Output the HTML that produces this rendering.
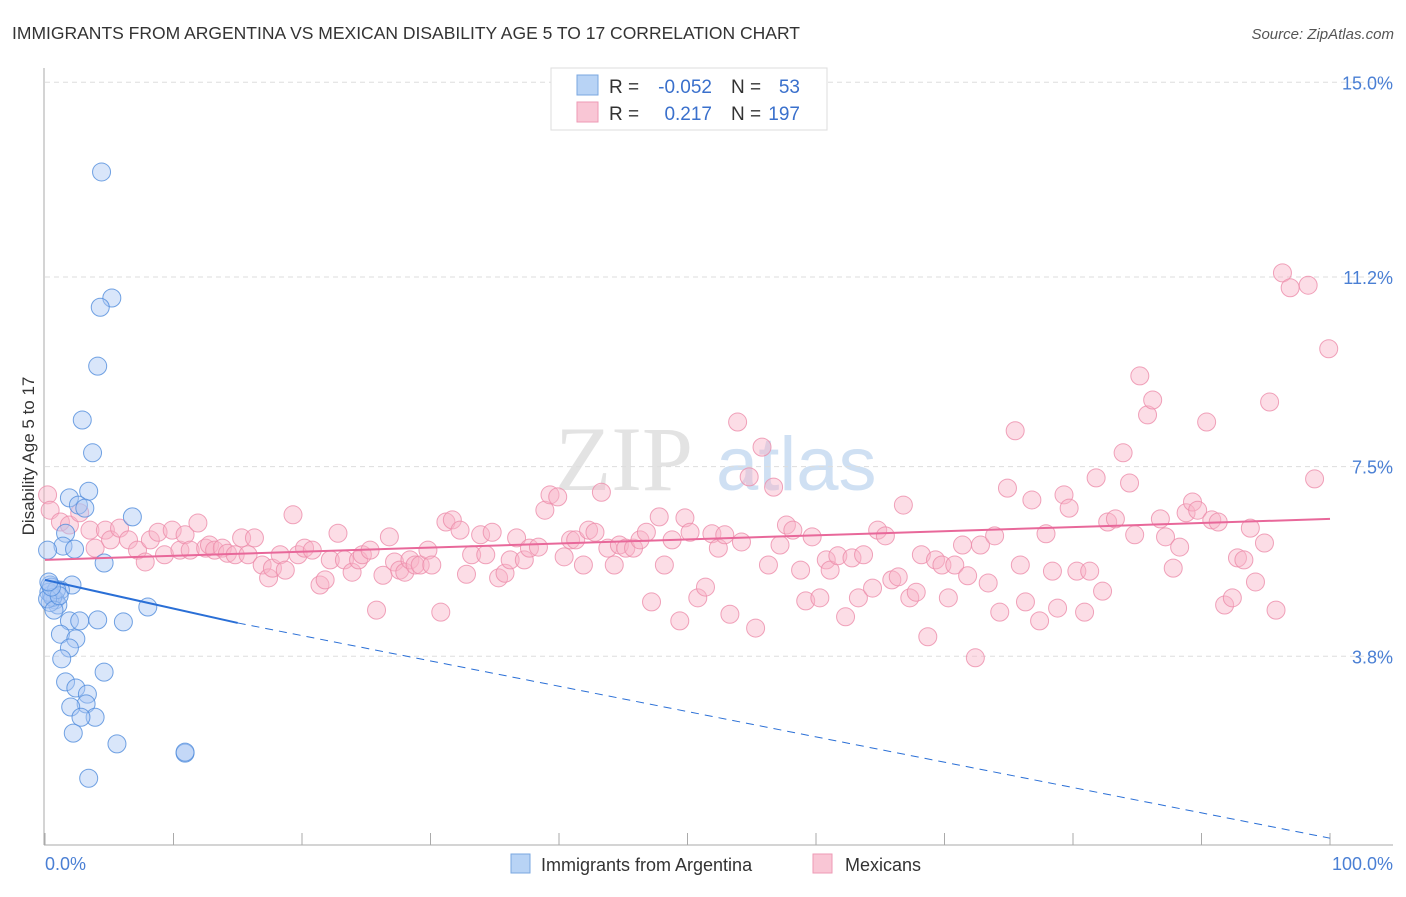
<!DOCTYPE html>
<html><head><meta charset="utf-8"><style>
body{margin:0;background:#fff;font-family:"Liberation Sans",sans-serif;}
</style></head><body>
<svg id="chart" width="1406" height="892" viewBox="0 0 1406 892" xmlns="http://www.w3.org/2000/svg" font-family="Liberation Sans, sans-serif">
<text x="12" y="39" font-size="17.5" fill="#333">IMMIGRANTS FROM ARGENTINA VS MEXICAN DISABILITY AGE 5 TO 17 CORRELATION CHART</text>
<text x="1394" y="39" font-size="15" fill="#555" text-anchor="end" font-style="italic">Source: ZipAtlas.com</text>
<g>
<text x="555" y="490" font-size="92" fill="#e3e3e3" font-family="Liberation Serif, serif">ZIP</text>
<text x="716" y="490" font-size="76" fill="#cfe0f3">atlas</text>
</g>
<g id="grid"></g><g id="axes"></g><g id="pts"></g><g id="lines"></g>
<text transform="translate(34,456) rotate(-90)" font-size="17" fill="#333" text-anchor="middle">Disability Age 5 to 17</text>
<text x="45" y="870" font-size="18" fill="#4a7fd4">0.0%</text>
<text x="1393" y="870" font-size="18" fill="#4a7fd4" text-anchor="end">100.0%</text>
<g>
<rect x="551" y="68" width="276" height="62" fill="#fff" stroke="#ddd"/>
<rect x="577" y="75" width="21" height="20" fill="#b8d3f5" stroke="#7aa7e0"/>
<rect x="577" y="102" width="21" height="20" fill="#f9c6d5" stroke="#ee9ab5"/>
<text x="609" y="93" font-size="19" fill="#333">R =</text>
<text x="712" y="93" font-size="19" fill="#3a70cc" text-anchor="end">-0.052</text>
<text x="731" y="93" font-size="19" fill="#333">N =</text>
<text x="800" y="93" font-size="19" fill="#3a70cc" text-anchor="end">53</text>
<text x="609" y="120" font-size="19" fill="#333">R =</text>
<text x="712" y="120" font-size="19" fill="#3a70cc" text-anchor="end">0.217</text>
<text x="731" y="120" font-size="19" fill="#333">N =</text>
<text x="800" y="120" font-size="19" fill="#3a70cc" text-anchor="end">197</text>
</g>
<g>
<rect x="511" y="854" width="19" height="19" fill="#b8d3f5" stroke="#7aa7e0"/>
<text x="541" y="871" font-size="18" fill="#333">Immigrants from Argentina</text>
<rect x="813" y="854" width="19" height="19" fill="#f9c6d5" stroke="#ee9ab5"/>
<text x="845" y="871" font-size="18" fill="#333">Mexicans</text>
</g>
</svg>
<script>
const yTicks=[3.8,7.5,11.2,15.0];
const yTickLabels=["3.8%","7.5%","11.2%","15.0%"];
const argX=[4.4,5.2,4.3,4.1,2.9,3.7,3.4,1.9,2.6,3.1,6.8,1.6,1.4,2.3,4.6,0.2,2.1,1.2,0.4,0.5,0.8,1.0,0.4,8.0,1.9,2.7,4.1,6.1,1.2,2.4,1.9,1.3,4.6,1.6,2.4,3.3,3.2,2.0,3.9,2.8,2.2,5.6,10.9,3.4,0.3,0.6,0.9,0.2,0.7,1.1,0.5,10.9,0.3];
const argY=[13.25,10.79,10.61,9.46,8.41,7.77,7.02,6.89,6.75,6.69,6.52,6.20,5.95,5.89,5.62,5.87,5.19,5.09,5.19,5.00,4.90,4.80,4.85,4.76,4.49,4.49,4.51,4.47,4.23,4.14,3.96,3.75,3.49,3.30,3.18,3.06,2.87,2.81,2.61,2.61,2.30,2.09,1.91,1.42,5.05,4.95,5.10,4.92,4.70,4.98,5.15,1.93,5.25];
const mexX=[0.2,0.4,1.2,1.9,2.7,3.5,3.9,4.7,5.1,5.8,6.5,7.2,7.8,8.2,8.8,9.3,9.9,10.5,10.9,11.3,11.9,12.5,12.8,13.2,13.8,14.2,14.8,15.3,15.8,16.3,16.9,17.4,17.7,18.3,18.7,19.3,19.7,20.2,20.8,21.4,21.8,22.2,22.8,23.3,23.9,24.4,24.7,25.3,25.8,26.3,26.8,27.2,27.6,28.0,28.4,28.8,29.2,29.8,30.1,30.8,31.2,31.7,32.3,32.8,33.2,33.9,34.3,34.8,35.3,35.8,36.2,36.7,37.3,37.7,38.4,38.9,39.3,39.9,40.4,40.9,41.3,41.9,42.3,42.8,43.3,43.8,44.3,44.7,45.2,45.8,46.3,46.8,47.2,47.8,48.2,48.8,49.4,49.8,50.2,50.8,51.4,51.9,52.4,52.9,53.3,53.9,54.2,54.8,55.3,55.8,56.3,56.7,57.2,57.7,58.2,58.8,59.2,59.7,60.3,60.8,61.1,61.7,62.3,62.8,63.3,63.7,64.4,64.8,65.4,65.9,66.4,66.8,67.3,67.8,68.2,68.7,69.3,69.8,70.3,70.8,71.4,71.8,72.4,72.8,73.4,73.9,74.3,74.9,75.5,75.9,76.3,76.8,77.4,77.9,78.4,78.8,79.3,79.7,80.3,80.9,81.3,81.8,82.3,82.7,83.3,83.9,84.4,84.8,85.2,85.8,86.2,86.8,87.2,87.8,88.3,88.8,89.3,89.7,90.4,90.8,91.3,91.8,92.4,92.8,93.3,93.8,94.2,94.9,95.3,95.8,96.3,96.9,98.3,98.8,99.9];
const mexY=[6.95,6.65,6.42,6.36,6.60,6.26,5.91,6.26,6.07,6.30,6.07,5.87,5.64,6.07,6.22,5.78,6.26,5.87,6.17,5.87,6.40,5.91,5.97,5.87,5.91,5.81,5.78,6.11,5.78,6.11,5.58,5.33,5.52,5.78,5.48,6.56,5.78,5.91,5.87,5.19,5.29,5.68,6.20,5.68,5.44,5.68,5.78,5.87,4.70,5.38,6.13,5.64,5.48,5.44,5.68,5.58,5.58,5.87,5.58,4.66,6.42,6.46,6.26,5.40,5.78,6.17,5.78,6.22,5.33,5.42,5.68,6.11,5.68,5.91,5.93,6.65,6.95,6.91,5.74,6.07,6.07,5.58,6.26,6.22,7.00,5.91,5.58,5.97,5.91,5.91,6.07,6.22,4.86,6.52,5.58,6.07,4.49,6.50,6.22,4.94,5.15,6.19,5.91,6.17,4.62,8.37,6.03,7.30,4.35,7.88,5.58,7.10,5.97,6.36,6.26,5.48,4.88,6.13,4.94,5.68,5.48,5.76,4.57,5.72,4.94,5.78,5.13,6.26,6.15,5.29,5.35,6.75,4.94,5.05,5.78,4.18,5.68,5.58,4.94,5.58,5.97,5.37,3.77,5.97,5.23,6.15,4.66,7.08,8.20,5.58,4.86,6.85,4.49,6.19,5.46,4.74,6.95,6.69,5.46,4.66,5.46,7.28,5.07,6.42,6.48,7.77,7.18,6.17,9.27,8.51,8.80,6.48,6.13,5.52,5.93,6.60,6.81,6.65,8.37,6.46,6.42,4.80,4.94,5.72,5.68,6.30,5.25,6.01,8.76,4.70,11.28,10.99,11.04,7.26,9.80];
const argTrend=[5.29,4.45];   // at x=0 and x=15 (solid part)
const argTrendEnd=0.25;       // at x=100 (dashed)
const mexTrend=[5.68,6.48];   // at x=0 and x=100

const NS="http://www.w3.org/2000/svg";
const X=v=>45+v*12.85;
const Y=v=>851-v*51.25;
function mk(tag,attrs,parent){const e=document.createElementNS(NS,tag);for(const k in attrs)e.setAttribute(k,attrs[k]);document.getElementById(parent).appendChild(e);return e;}
yTicks.forEach((t,i)=>{
  const g=mk('line',{x1:45,x2:1393,y1:Y(t),y2:Y(t),stroke:'#ddd','stroke-dasharray':'5,4'},'grid');
  
  
  const l=mk('text',{x:1393,y:Y(t)+7,'font-size':18,fill:'#4a7fd4','text-anchor':'end'},'grid');
  l.textContent=yTickLabels[i];
  
  
});
const ya=mk('line',{x1:44,x2:44,y1:68,y2:845,stroke:'#aaa'},'axes');


const xa=mk('line',{x1:44,x2:1393,y1:845,y2:845,stroke:'#aaa'},'axes');


for(let i=0;i<=10;i++){
  const t=mk('line',{x1:X(i*10),x2:X(i*10),y1:833,y2:845,stroke:'#aaa'},'axes');
  
  
}
mexX.forEach((x,i)=>{
  const c=mk('circle',{cx:X(x),cy:Y(mexY[i]),r:9,fill:'rgba(248,180,200,0.45)',stroke:'rgba(236,140,170,0.8)','stroke-width':1},'pts');
  
  
});
argX.forEach((x,i)=>{
  const c=mk('circle',{cx:X(x),cy:Y(argY[i]),r:9,fill:'rgba(170,200,245,0.45)',stroke:'rgba(80,140,220,0.8)','stroke-width':1},'pts');
  
  
});
const a1=mk('line',{x1:X(0),y1:Y(argTrend[0]),x2:X(15),y2:Y(argTrend[1]),stroke:'#2a6fd6','stroke-width':2},'lines');


const a2=mk('line',{x1:X(15),y1:Y(argTrend[1]),x2:X(100),y2:Y(argTrendEnd),stroke:'#2a6fd6','stroke-width':1,'stroke-dasharray':'8,6'},'lines');


const m1=mk('line',{x1:X(0),y1:Y(mexTrend[0]),x2:X(100),y2:Y(mexTrend[1]),stroke:'#e8689a','stroke-width':2},'lines');


</script>
</body></html>
